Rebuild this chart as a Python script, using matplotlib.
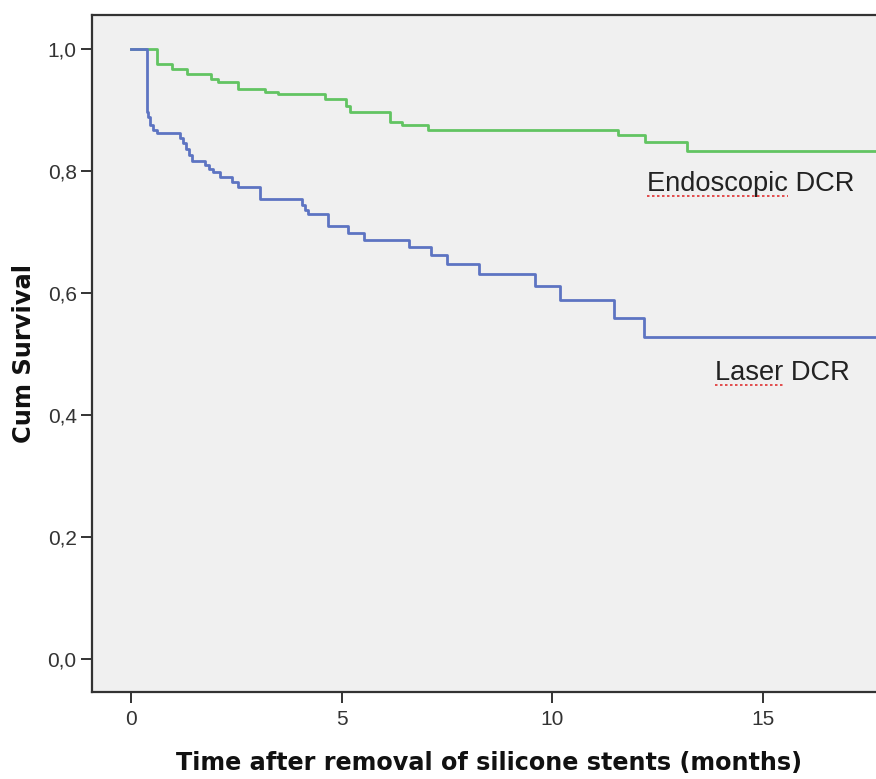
import matplotlib
matplotlib.use("Agg")
import matplotlib.pyplot as plt
from matplotlib.lines import Line2D

# Kaplan-Meier steps (time in months, cum survival)
endo_time = [0, 0.61, 0.98, 1.33, 1.9, 2.07, 2.55, 3.18, 3.5, 4.6, 5.1, 5.2,
             6.15, 6.43, 7.05, 11.57, 12.2, 13.2, 18.5]
endo_surv = [1.0, 0.975, 0.968, 0.960, 0.951, 0.946, 0.935, 0.930, 0.927, 0.918,
             0.907, 0.897, 0.880, 0.875, 0.868, 0.859, 0.847, 0.833, 0.833]

laser_time = [0, 0.37, 0.40, 0.45, 0.52, 0.62, 1.16, 1.24, 1.31, 1.38, 1.44,
              1.76, 1.85, 1.95, 2.11, 2.40, 2.54, 3.06, 4.06, 4.13, 4.20, 4.68,
              5.15, 5.53, 6.59, 7.13, 7.50, 8.25, 9.60, 10.19, 11.46, 12.17, 18.5]
laser_surv = [1.0, 0.897, 0.889, 0.875, 0.867, 0.862, 0.854, 0.846, 0.836, 0.826,
              0.816, 0.810, 0.804, 0.798, 0.791, 0.782, 0.774, 0.755, 0.744, 0.736,
              0.730, 0.710, 0.699, 0.687, 0.675, 0.662, 0.647, 0.632, 0.611, 0.589,
              0.559, 0.528, 0.528]

x_ticks = [0, 5, 10, 15]
y_ticks = [0.0, 0.2, 0.4, 0.6, 0.8, 1.0]
y_tick_labels = ["0,0", "0,2", "0,4", "0,6", "0,8", "1,0"]

plt.rcParams['font.family'] = ['Liberation Sans', 'DejaVu Sans']

fig = plt.figure(figsize=(8.76, 7.79), dpi=100)
W, H = 876, 779
# axes box in pixels: left 92, right 886 (runs past the edge), top 15, bottom 692
ax = fig.add_axes([92 / W, (H - 692) / H, (886 - 92) / W, (692 - 15) / H])
ax.set_facecolor('#f0f0f0')

ax.step(endo_time, endo_surv, where='post', color='#62c462', lw=2.0)
ax.step(laser_time, laser_surv, where='post', color='#5d74c2', lw=2.0)

ax.set_xlim(-0.926, 17.92)
ax.set_ylim(-0.054, 1.056)
ax.set_xticks(x_ticks)
ax.set_yticks(y_ticks)
ax.set_yticklabels(y_tick_labels)
ax.tick_params(axis='both', length=8, width=1.4, color='#333333',
               labelsize=15, labelcolor='#333333')
ax.tick_params(axis='y', pad=3)
ax.tick_params(axis='x', pad=5)
for side in ['left', 'bottom', 'top', 'right']:
    ax.spines[side].set_color('#333333')
    ax.spines[side].set_linewidth(1.6)

ax.set_xlabel("Time after removal of silicone stents (months)", fontsize=17.2,
              fontweight='bold', family='DejaVu Sans', color='#111111', labelpad=16)
ax.set_ylabel("Cum Survival", fontsize=17.4, fontweight='bold',
              family='DejaVu Sans', color='#111111', labelpad=8)

labels = [("Endoscopic DCR", "Endoscopic", 12.24, 0.768),
          ("Laser DCR", "Laser", 13.86, 0.457)]
fig.canvas.draw()
renderer = fig.canvas.get_renderer()
for full, word, tx, ty in labels:
    ax.text(tx, ty, full, fontsize=19.6, color='#222222', ha='left', va='baseline')
    # red spell-check underline under the first word
    probe = ax.text(tx, ty, word, fontsize=19.6, ha='left', va='baseline')
    bb = probe.get_window_extent(renderer)
    probe.remove()
    y0 = ax.transData.transform((tx, ty))[1] - 5
    inv = fig.transFigure.inverted()
    p0 = inv.transform((bb.x0, y0))
    p1 = inv.transform((bb.x1, y0))
    fig.add_artist(Line2D([p0[0], p1[0]], [p0[1], p1[1]], color='#e03030',
                          lw=1.2, ls=(0, (1.5, 1.5))))

fig.savefig("out.png", dpi=100)
